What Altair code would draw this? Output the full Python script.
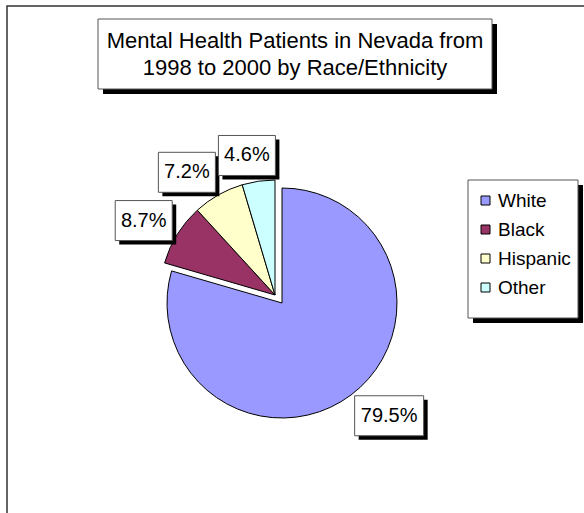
import altair as alt
import pandas as pd

# ---- data -------------------------------------------------------------
categories = ["White", "Black", "Hispanic", "Other"]
percentages = [79.5, 8.7, 7.2, 4.6]
colors = ["#9999FF", "#993366", "#FFFFCC", "#CCFFFF"]
title_lines = ["Mental Health Patients in Nevada from", "1998 to 2000 by Race/Ethnicity"]

df = pd.DataFrame({"category": categories, "pct": percentages,
                   "order": list(range(len(categories)))})

# ---- layout -----------------------------------------------------------
FONT = "Liberation Sans"
W, H = 584, 513
CX, CY, R = 282, 303, 115      # pie centre and radius
EX, EY = -7, -8                 # offset of the exploded slices
LR = 121                        # label anchor radius


def box(x0, y0, x1, y1, **kw):
    return alt.Chart(alt.Data(values=[{}])).mark_rect(**kw).encode(
        x=alt.value(x0), x2=alt.value(x1), y=alt.value(y0), y2=alt.value(y1))


frame = box(7, 6, 700, 700, fill=None, stroke="#333333", strokeWidth=1.5)
title_shadow = box(103, 24, 497, 94, fill="black")
title_box = box(98, 19, 492, 89, fill="white", stroke="#555555", strokeWidth=1)
title_text = alt.Chart(alt.Data(values=[{}])).mark_text(
    font=FONT, fontSize=22, lineHeight=27, align="center", baseline="middle",
    color="black").encode(x=alt.value(295), y=alt.value(41),
                          text=alt.value(title_lines))

legend_shadow = box(473, 185, 583, 323, fill="black")
legend_box = box(468, 180, 578, 318, fill="white", stroke="#555555", strokeWidth=1)

base = alt.Chart(df).transform_joinaggregate(
    total="sum(pct)"
).transform_window(
    cum="sum(pct)", sort=[alt.SortField("order")], frame=[None, 0]
).transform_calculate(
    t0="2*PI*(datum.cum - datum.pct)/datum.total",
    t1="2*PI*datum.cum/datum.total",
    tm="PI*(2*datum.cum - datum.pct)/datum.total",
    cx=f"datum.order > 0 ? {CX + EX} : {CX}",
    cy=f"datum.order > 0 ? {CY + EY} : {CY}",
    label="format(datum.pct, '.1f') + '%'",
).transform_calculate(
    hw="6*length(datum.label) + 4.5",
).transform_calculate(
    lx=f"datum.cx + {LR}*sin(datum.tm) + datum.hw*clamp(2.6*sin(datum.tm), -1, 1)",
    ly=f"datum.cy - {LR + 20}*cos(datum.tm)",
).transform_calculate(
    bx0="datum.lx - datum.hw", bx1="datum.lx + datum.hw",
    by0="datum.ly - 20", by1="datum.ly + 20",
    sx0="datum.lx - datum.hw + 4", sx1="datum.lx + datum.hw + 4",
    sy0="datum.ly - 16", sy1="datum.ly + 24",
)

arcs = base.mark_arc(radius=R, stroke="black", strokeWidth=1).encode(
    theta=alt.Theta("t0:Q", scale=None, stack=None),
    theta2="t1:Q",
    x=alt.X("cx:Q", scale=None),
    y=alt.Y("cy:Q", scale=None),
    color=alt.Color("category:N",
                    scale=alt.Scale(domain=categories, range=colors),
                    sort=categories,
                    legend=alt.Legend(
                        orient="none", legendX=476, legendY=191, title=None,
                        symbolType="square", symbolSize=81,
                        symbolStrokeColor="black", symbolStrokeWidth=1,
                        symbolOpacity=1,
                        labelFont=FONT, labelFontSize=19, labelColor="black",
                        labelOffset=3, rowPadding=9, padding=0,
                        strokeColor=None, fillColor=None)),
)

lab_shadow = base.mark_rect(fill="black").encode(
    x=alt.X("sx0:Q", scale=None), x2="sx1:Q",
    y=alt.Y("sy0:Q", scale=None), y2="sy1:Q")
lab_box = base.mark_rect(fill="white", stroke="#555555", strokeWidth=1).encode(
    x=alt.X("bx0:Q", scale=None), x2="bx1:Q",
    y=alt.Y("by0:Q", scale=None), y2="by1:Q")
lab_text = base.mark_text(font=FONT, fontSize=20, align="center",
                          baseline="middle", color="black").encode(
    x=alt.X("lx:Q", scale=None), y=alt.Y("ly:Q", scale=None), text="label:N")

chart = alt.layer(
    frame, title_shadow, title_box, title_text, legend_shadow, legend_box,
    arcs, lab_shadow, lab_box, lab_text
).properties(
    width=W, height=H, autosize="none", padding=0, background="white"
).configure_view(stroke=None)

chart.save("out.html", embed_options={"renderer": "svg", "actions": False})
